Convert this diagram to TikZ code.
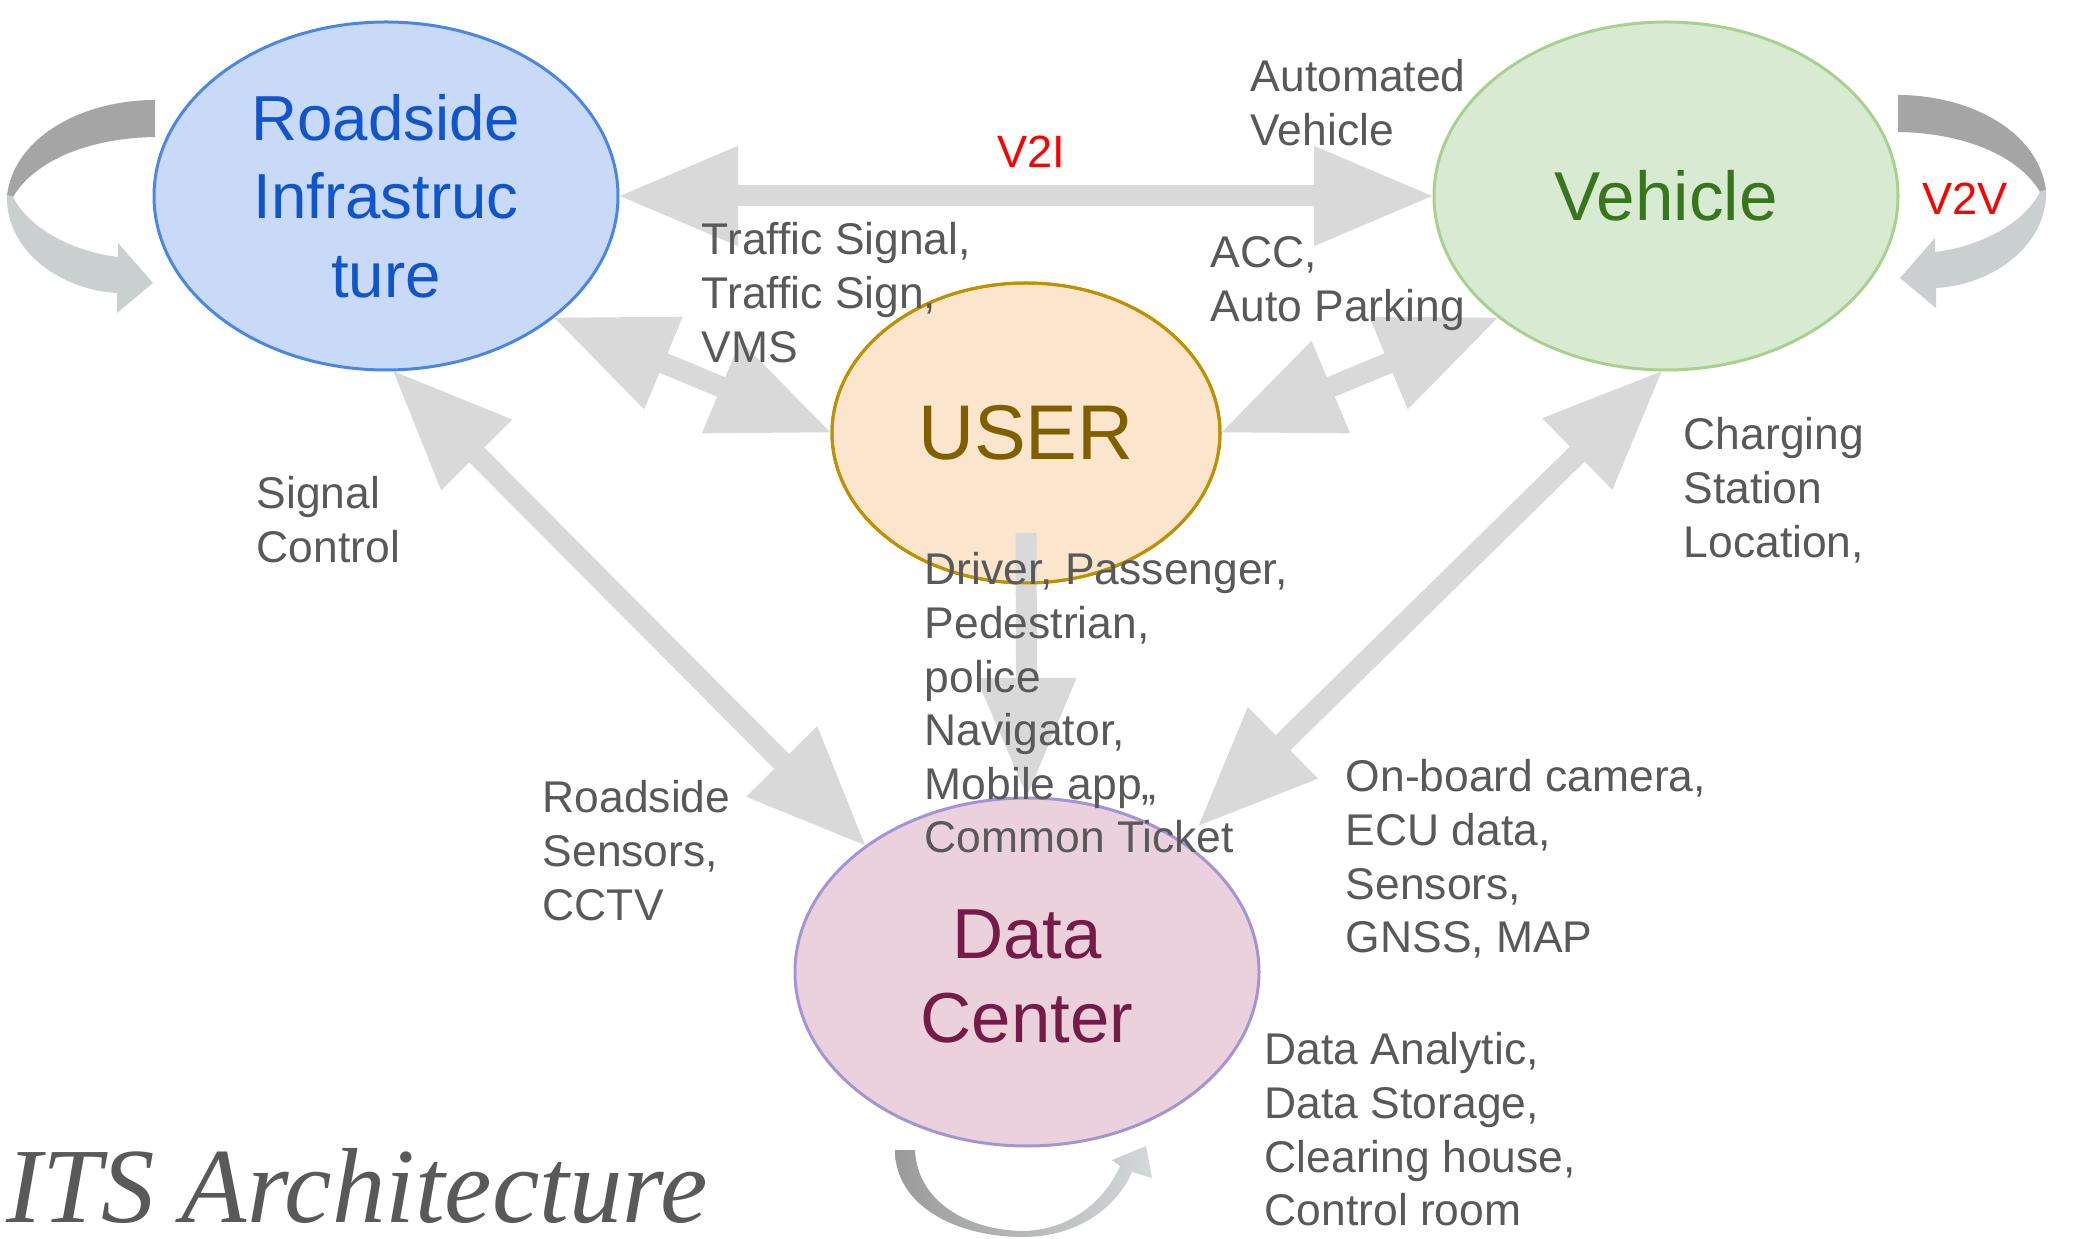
\documentclass[tikz,border=0pt]{standalone}
\usepackage{fontspec}
\setmainfont{Liberation Sans}
\newfontfamily\titleserif{Liberation Serif}
\usetikzlibrary{arrows.meta,shapes.geometric}

\definecolor{rifill}{HTML}{C9DAF8}
\definecolor{riline}{HTML}{4A86E8}
\definecolor{ritext}{HTML}{1155CC}
\definecolor{vefill}{HTML}{D9EAD3}
\definecolor{veline}{HTML}{A9D18E}
\definecolor{vetext}{HTML}{38761D}
\definecolor{usfill}{HTML}{FCE5CD}
\definecolor{usline}{HTML}{BF9000}
\definecolor{ustext}{HTML}{7F6000}
\definecolor{dcfill}{HTML}{EAD1DC}
\definecolor{dcline}{HTML}{A394D6}
\definecolor{dctext}{HTML}{741B47}
\definecolor{arrowgray}{HTML}{D9D9D9}
\definecolor{labelgray}{HTML}{595959}
\definecolor{loopdark}{HTML}{A5A5A5}
\definecolor{looplight}{HTML}{CACFCF}
\definecolor{loopleft}{HTML}{9A9A9A}
\definecolor{loopright}{HTML}{D3D8D8}

\tikzset{
  bubble/.style={ellipse, inner sep=0pt, outer sep=0pt, line width=0.75pt, align=center},
  blockarrow/.style={draw=arrowgray, line width=5.25pt,
    >={Triangle[length=30pt,width=23.5pt]}},
  lbl/.style={anchor=north west, inner sep=0pt, align=left, text=labelgray,
    font=\fontsize{11.1}{13.4}\selectfont},
  redlbl/.style={inner sep=0pt, text=red, font=\fontsize{11.3}{13}\selectfont},
  loopring/.pic={
    % upper (dark) half of the self-loop ribbon
    \fill[loopdark] (155,100) .. controls (85,100) and (15,135) .. (7,195)
      -- (13,197) .. controls (35,160) and (90,138) .. (155,137) -- cycle;
    % lower (light) half with its arrow head
    \fill[looplight] (7,195) .. controls (5,250) and (60,290) .. (117,293)
      -- (117,313) -- (153,283) -- (118,243) -- (118,257)
      .. controls (75,252) and (30,230) .. (13,197) -- cycle;
  }
}

\begin{document}
\begin{tikzpicture}[x=0.25pt,y=-0.25pt]
\fill[white] (0,0) rectangle (2078,1239);
\useasboundingbox (0,0) rectangle (2078,1239);

% the four entities
\node[bubble, fill=rifill, draw=riline, text=ritext, minimum width=116pt, minimum height=87pt,
      font=\fontsize{15.9}{19.6}\selectfont] (ri) at (386,196) {Roadside\\Infrastruc\\ture};
\node[bubble, fill=vefill, draw=veline, text=vetext, minimum width=116pt, minimum height=87pt,
      font=\fontsize{17.3}{20}\selectfont] (veh) at (1666,196) {Vehicle};
\node[bubble, fill=usfill, draw=usline, text=ustext, minimum width=97pt, minimum height=75pt,
      font=\fontsize{19.4}{22}\selectfont] (user) at (1026,433) {USER};
\node[bubble, fill=dcfill, draw=dcline, minimum width=116pt, minimum height=87pt,
      label={[inner sep=0pt, align=center, text=dctext, yshift=-1.1pt,
              font=\fontsize{17.7}{20.8}\selectfont]center:Data\\Center}] (dc) at (1027,972) {};

% self-loops
\pic {loopring};
\begin{scope}[shift={(2053,-5)}, xscale=-1]
  \pic[transform shape] {loopring};
\end{scope}
\shade[left color=loopleft, right color=loopright]
  (895,1150) .. controls (895,1205) and (955,1237) .. (1023,1237)
  .. controls (1080,1237) and (1118,1205) .. (1132,1172)
  -- (1152,1178) -- (1146,1146) -- (1112,1160) -- (1120,1166)
  .. controls (1106,1198) and (1073,1230) .. (1023,1231)
  .. controls (965,1230) and (917,1200) .. (915,1150) -- cycle;

% links
\draw[blockarrow,<->] (ri.east) -- (veh.west);
\draw[blockarrow,<->] (ri.-36) -- (user.west);
\draw[blockarrow,<->] (user.east) -- (veh.-144);
\draw[blockarrow,<->] (ri.-88) -- (dc.142);
\draw[blockarrow,<->,shorten >=5.5pt] (veh.-91) -- (dc.40);
\draw[blockarrow,->] ([yshift=12.5pt]user.south) -- (dc.north);
\draw[usline, line width=0.75pt] (user.center) ellipse [x radius=48.5pt, y radius=37.5pt];

% labels
\node[redlbl] (v2i) at (1031,152) {V2I};
\node[redlbl] (v2v) at (1965,199) {V2V};
\node[lbl] (lAuto) at (1250,59) {Automated\\Vehicle};
\node[lbl] (lSignal) at (701,222) {Traffic Signal,\\Traffic Sign,\\VMS};
\node[lbl] (lAcc) at (1210,236) {ACC,\\Auto Parking};
\node[lbl] (lCtrl) at (256,476) {Signal\\Control};
\node[lbl] (lCharge) at (1683,417) {Charging\\Station\\Location,};
\node[lbl] (lUser) at (924,552) {Driver, Passenger,\\Pedestrian,\\police\\Navigator,\\Mobile app,,\\Common Ticket};
\node[lbl] (lRoad) at (542,780) {Roadside\\Sensors,\\CCTV};
\node[lbl] (lBoard) at (1345,759) {On-board camera,\\ECU data,\\Sensors,\\GNSS, MAP};
\node[lbl] (lData) at (1264,1032) {Data Analytic,\\Data Storage,\\Clearing house,\\Control room};
\node[anchor=base west, inner sep=0pt, text=labelgray,
      font=\titleserif\itshape\fontsize{26.7}{31}\selectfont] (title) at (6,1222) {ITS Architecture};
\end{tikzpicture}
\end{document}
